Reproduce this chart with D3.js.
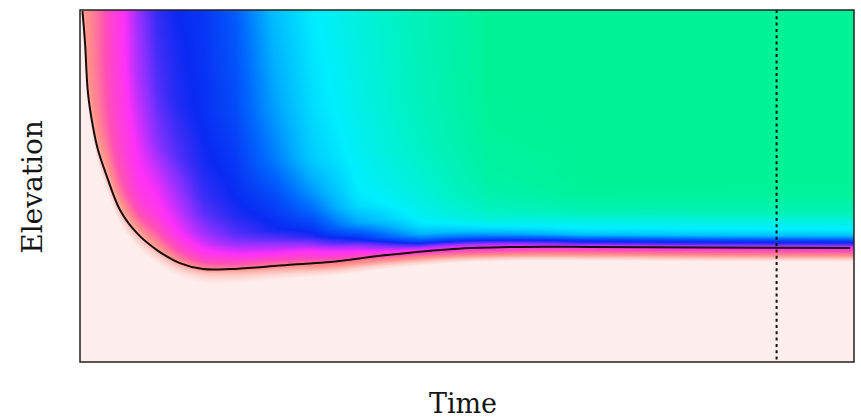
<!DOCTYPE html>
<html>
<head>
<meta charset="utf-8" />
<script src="https://d3js.org/d3.v7.min.js"></script>
<style>
  body { margin: 0; background: #fff; }
  svg { display: block; }
  .label { font-family: "DejaVu Serif", serif; fill: #151515; }
</style>
</head>
<body>
<script>
// surface line (time, elevation), both on a 0-100 scale
var curveTime = [0.32, 0.65, 1.03, 1.68, 2.33, 3.49, 5.17, 7.36, 9.95, 12.9, 15.9, 19.4, 23.6, 28.0, 32.3, 39.7, 48.2, 56.8, 65.9, 80.1, 99.5];
var curveElev = [99.7, 90.6, 76.4, 66.8, 60.2, 52.6, 43.2, 36.6, 31.8, 28.1, 26.4, 26.4, 27.0, 27.8, 28.4, 30.4, 32.1, 32.7, 32.7, 32.5, 32.4];

// field sampled at these times and heights above the surface line
var fieldTimes = [0, 1, 2.5, 4, 5.5, 7.5, 10, 12.5, 16, 20, 25, 30, 36, 44, 53, 65, 100];
var fieldHeights = [-4, -2.5, -1, 0, 1, 2, 3.5, 5, 7.5, 10, 15, 20, 30, 45, 75];
var fieldValues = [
  [0, 0.02, 0.05, 0.08, 0.09, 0.1, 0.1, 0.1, 0.1, 0.1, 0.1, 0.1, 0.1, 0.1, 0.1],
  [0, 0.03, 0.06, 0.08, 0.09, 0.1, 0.1, 0.11, 0.11, 0.12, 0.12, 0.12, 0.12, 0.12, 0.12],
  [0, 0.03, 0.06, 0.08, 0.09, 0.1, 0.11, 0.12, 0.13, 0.14, 0.15, 0.16, 0.17, 0.17, 0.17],
  [0, 0.03, 0.06, 0.08, 0.09, 0.1, 0.12, 0.13, 0.15, 0.17, 0.2, 0.21, 0.23, 0.24, 0.24],
  [0, 0.03, 0.06, 0.08, 0.1, 0.11, 0.13, 0.15, 0.18, 0.2, 0.23, 0.25, 0.27, 0.29, 0.3],
  [0, 0.03, 0.06, 0.08, 0.1, 0.12, 0.15, 0.18, 0.22, 0.25, 0.28, 0.3, 0.33, 0.37, 0.4],
  [0, 0.03, 0.06, 0.09, 0.11, 0.13, 0.16, 0.19, 0.23, 0.27, 0.3, 0.33, 0.4, 0.44, 0.48],
  [0, 0.03, 0.07, 0.1, 0.13, 0.16, 0.2, 0.23, 0.28, 0.31, 0.35, 0.38, 0.44, 0.48, 0.5],
  [0, 0.03, 0.07, 0.12, 0.16, 0.2, 0.25, 0.29, 0.34, 0.38, 0.43, 0.46, 0.49, 0.51, 0.52],
  [0, 0.04, 0.08, 0.13, 0.18, 0.22, 0.28, 0.33, 0.4, 0.44, 0.48, 0.5, 0.52, 0.55, 0.58],
  [0, 0.04, 0.09, 0.14, 0.18, 0.23, 0.3, 0.35, 0.43, 0.49, 0.52, 0.55, 0.62, 0.67, 0.72],
  [0, 0.05, 0.11, 0.15, 0.2, 0.25, 0.3, 0.38, 0.48, 0.52, 0.6, 0.66, 0.74, 0.77, 0.8],
  [0, 0.06, 0.13, 0.17, 0.24, 0.3, 0.38, 0.48, 0.58, 0.68, 0.77, 0.8, 0.82, 0.84, 0.86],
  [0, 0.08, 0.17, 0.27, 0.36, 0.47, 0.6, 0.7, 0.78, 0.82, 0.85, 0.87, 0.9, 0.92, 0.93],
  [0, 0.1, 0.2, 0.3, 0.38, 0.5, 0.65, 0.75, 0.85, 0.9, 0.95, 0.97, 0.99, 1, 1],
  [0, 0.1, 0.2, 0.3, 0.45, 0.54, 0.72, 0.79, 0.85, 0.93, 0.99, 1, 1, 1, 1],
  [0, 0.1, 0.2, 0.3, 0.45, 0.54, 0.72, 0.79, 0.85, 0.93, 0.99, 1, 1, 1, 1]
];

var markerTime = 90;

var valueStops = [0, 0.05, 0.12, 0.2, 0.3, 0.4, 0.5, 0.6, 0.7, 0.8, 0.9, 1];
var valueColors = ["#fdeeed", "#fdd0cc", "#ff9088", "#ff50b4", "#ff30f8", "#8c30ff",
  "#0a2af2", "#0068ff", "#00b4ff", "#00eeff", "#00f2c4", "#00f296"];

var width = 861, height = 418;
var margin = { top: 10, right: 7, bottom: 56, left: 80 };

var x = d3.scaleLinear().domain([0, 100]).range([margin.left, width - margin.right]);
var y = d3.scaleLinear().domain([0, 100]).range([height - margin.bottom, margin.top]);
var color = d3.scaleLinear().domain(valueStops).range(valueColors).clamp(true);

var svg = d3.select("body").append("svg")
  .attr("width", width)
  .attr("height", height);

var line = d3.line()
  .x(function(d) { return x(d[0]); })
  .y(function(d) { return y(d[1]); })
  .curve(d3.curveCatmullRom.alpha(0.5));

var curvePts = curveTime.map(function(t, i) { return [t, curveElev[i]]; });

var surface = svg.append("path")
  .attr("d", line(curvePts))
  .attr("fill", "none")
  .attr("stroke", "#1a0c0c")
  .attr("stroke-width", 2);

// sample the drawn line so the field follows it exactly
var node = surface.node();
var len = node.getTotalLength();
var samples = [];
for (var s = 0; s <= len; s += 0.25) {
  var p = node.getPointAtLength(s);
  samples.push([p.x, p.y]);
}
samples.sort(function(a, b) { return a[0] - b[0]; });
var bx = d3.bisector(function(d) { return d[0]; }).left;
function surfaceY(px) {
  if (px < samples[0][0]) return null;
  if (px >= samples[samples.length - 1][0]) return samples[samples.length - 1][1];
  var k = bx(samples, px);
  var a = samples[k - 1] || samples[k], b = samples[k];
  if (b[0] === a[0]) return (a[1] + b[1]) / 2;
  return a[1] + (b[1] - a[1]) * (px - a[0]) / (b[0] - a[0]);
}

function locate(arr, v) {
  if (v <= arr[0]) return [0, 0];
  if (v >= arr[arr.length - 1]) return [arr.length - 2, 1];
  var i = d3.bisectRight(arr, v) - 1;
  return [i, (v - arr[i]) / (arr[i + 1] - arr[i])];
}
function fieldAt(t, h) {
  var a = locate(fieldTimes, t), b = locate(fieldHeights, h);
  var i = a[0], u = a[1], j = b[0], w = b[1];
  var v00 = fieldValues[i][j], v01 = fieldValues[i][j + 1];
  var v10 = fieldValues[i + 1][j], v11 = fieldValues[i + 1][j + 1];
  return (v00 * (1 - w) + v01 * w) * (1 - u) + (v10 * (1 - w) + v11 * w) * u;
}

var x0 = x.range()[0], x1 = x.range()[1];
var yTop = y.range()[1], yBot = y.range()[0];
var cw = Math.round(x1 - x0), ch = Math.round(yBot - yTop);

var lut = d3.range(1001).map(function(k) { return d3.rgb(color(k / 1000)); });

var canvas = document.createElement("canvas");
canvas.width = cw;
canvas.height = ch;
var ctx = canvas.getContext("2d");
var img = ctx.createImageData(cw, ch);
for (var i = 0; i < cw; i++) {
  var px = x0 + i + 0.5;
  var t = x.invert(px);
  var sy = surfaceY(px);
  for (var j = 0; j < ch; j++) {
    var py = yTop + j + 0.5;
    var v;
    if (sy === null) v = 0;
    else v = fieldAt(t, y.invert(py) - y.invert(sy));
    var c = lut[Math.max(0, Math.min(1000, Math.round(v * 1000)))];
    var o = (j * cw + i) * 4;
    img.data[o] = c.r;
    img.data[o + 1] = c.g;
    img.data[o + 2] = c.b;
    img.data[o + 3] = 255;
  }
}
ctx.putImageData(img, 0, 0);

svg.insert("image", ":first-child")
  .attr("x", x0)
  .attr("y", yTop)
  .attr("width", cw)
  .attr("height", ch)
  .attr("preserveAspectRatio", "none")
  .attr("href", canvas.toDataURL());

svg.append("line")
  .attr("x1", x(markerTime))
  .attr("x2", x(markerTime))
  .attr("y1", yTop)
  .attr("y2", yBot)
  .attr("stroke", "#111")
  .attr("stroke-width", 2)
  .attr("stroke-dasharray", "3,3.3");

svg.append("rect")
  .attr("x", x0)
  .attr("y", yTop)
  .attr("width", x1 - x0)
  .attr("height", yBot - yTop)
  .attr("fill", "none")
  .attr("stroke", "#222")
  .attr("stroke-width", 1.5);

svg.append("text")
  .attr("class", "label")
  .attr("x", (x0 + x1) / 2 - 4)
  .attr("y", 413)
  .attr("text-anchor", "middle")
  .style("font-size", "27px")
  .text("Time");

svg.append("text")
  .attr("class", "label")
  .attr("transform", "translate(42 " + ((yTop + yBot) / 2 + 1) + ") rotate(-90)")
  .attr("text-anchor", "middle")
  .style("font-size", "28px")
  .text("Elevation");
</script>
</body>
</html>
